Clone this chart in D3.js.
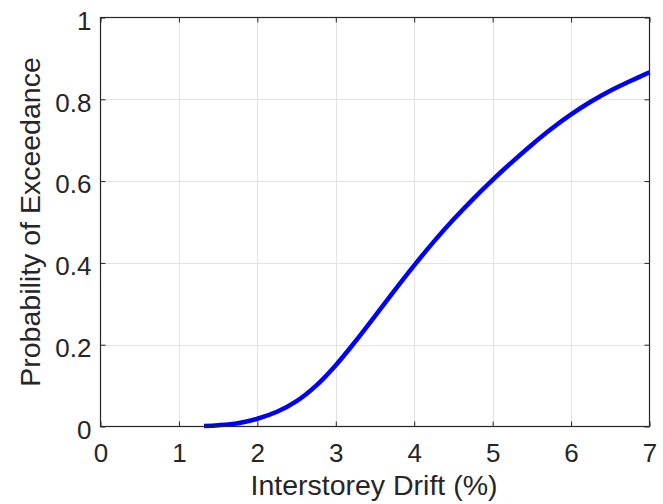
<!DOCTYPE html>
<html><head><meta charset="utf-8">
<script src="https://cdn.jsdelivr.net/npm/d3@7"></script>
<style>body{margin:0;background:#fff}svg{display:block}</style>
</head><body>
<svg id="c" width="663" height="504"></svg>
<script>
const driftX = [1.32, 1.5, 1.75, 2, 2.25, 2.5, 2.75, 3, 3.25, 3.5, 3.75, 4, 4.25, 4.5, 4.75, 5, 5.25, 5.5, 5.75, 6, 6.25, 6.5, 6.75, 7];
const probY  = [0.001, 0.003, 0.008, 0.019, 0.036, 0.062, 0.100, 0.150, 0.208, 0.270, 0.333, 0.394, 0.452, 0.506, 0.556, 0.603, 0.647, 0.689, 0.728, 0.763, 0.794, 0.821, 0.844, 0.866];
const xTicks = [0, 1, 2, 3, 4, 5, 6, 7];
const yTicks = [0, 0.2, 0.4, 0.6, 0.8, 1];
const xLabel = "Interstorey Drift (%)";
const yLabel = "Probability of Exceedance";

const L = 100.5, R = 649.5, T = 17.5, B = 426.5;
const svg = d3.select("#c");
const x = d3.scaleLinear().domain([0, 7]).range([L, R]);
const y = d3.scaleLinear().domain([0, 1]).range([B, T]);
const font = "'Liberation Sans', Arial, Helvetica, sans-serif";
const ink = "#262626";
const tickFs = 26, labelFs = 28.5;

// grid
svg.append("g").selectAll("line").data(xTicks.slice(1, -1)).join("line")
  .attr("x1", d => Math.round(x(d)) + 0.5).attr("x2", d => Math.round(x(d)) + 0.5)
  .attr("y1", T).attr("y2", B).attr("stroke", "#e3e3e3").attr("stroke-width", 1);
svg.append("g").selectAll("line").data(yTicks.slice(1, -1)).join("line")
  .attr("y1", d => Math.round(y(d)) + 0.5).attr("y2", d => Math.round(y(d)) + 0.5)
  .attr("x1", L).attr("x2", R).attr("stroke", "#e3e3e3").attr("stroke-width", 1);

// curve
const line = d3.line().x((d, i) => x(driftX[i])).y(d => y(d)).curve(d3.curveCatmullRom);
svg.append("path").attr("d", line(probY)).attr("fill", "none")
  .attr("stroke", "#0000ff").attr("stroke-width", 4.5);

// axes
const ax = (sel, axis) => {
  sel.call(axis);
  sel.select(".domain").remove();
  sel.selectAll(".tick line").attr("stroke", ink);
  sel.selectAll("text").attr("fill", ink).style("font-family", font).style("font-size", tickFs + "px");
};
svg.append("g").attr("transform", `translate(0,${B})`)
  .call(g => ax(g, d3.axisBottom(x).tickValues(xTicks).tickSize(-5).tickPadding(17).tickFormat(d3.format("d"))));
svg.append("g").attr("transform", `translate(0,${T})`)
  .call(g => ax(g, d3.axisTop(x).tickValues(xTicks).tickSize(-5).tickFormat("")));
const yg = svg.append("g").attr("transform", `translate(${L},0)`)
  .call(g => ax(g, d3.axisLeft(y).tickValues(yTicks).tickSize(-5).tickPadding(9).tickFormat(d => d === 0 || d === 1 ? String(d) : d3.format(".1f")(d))));
yg.selectAll(".tick text").attr("dy", "0.45em");
svg.append("g").attr("transform", `translate(${R},0)`)
  .call(g => ax(g, d3.axisRight(y).tickValues(yTicks).tickSize(-5).tickFormat("")));

svg.append("rect").attr("x", L).attr("y", T).attr("width", R - L).attr("height", B - T)
  .attr("fill", "none").attr("stroke", ink).attr("stroke-width", 1.2);

// labels
svg.append("text").attr("x", (L + R) / 2 - 1).attr("y", 495).attr("text-anchor", "middle")
  .style("font-family", font).style("font-size", labelFs + "px").attr("fill", ink).text(xLabel);
svg.append("text").attr("transform", `translate(40,${(T + B) / 2}) rotate(-90)`).attr("text-anchor", "middle")
  .style("font-family", font).style("font-size", labelFs + "px").attr("fill", ink).text(yLabel);
</script>
</body></html>
